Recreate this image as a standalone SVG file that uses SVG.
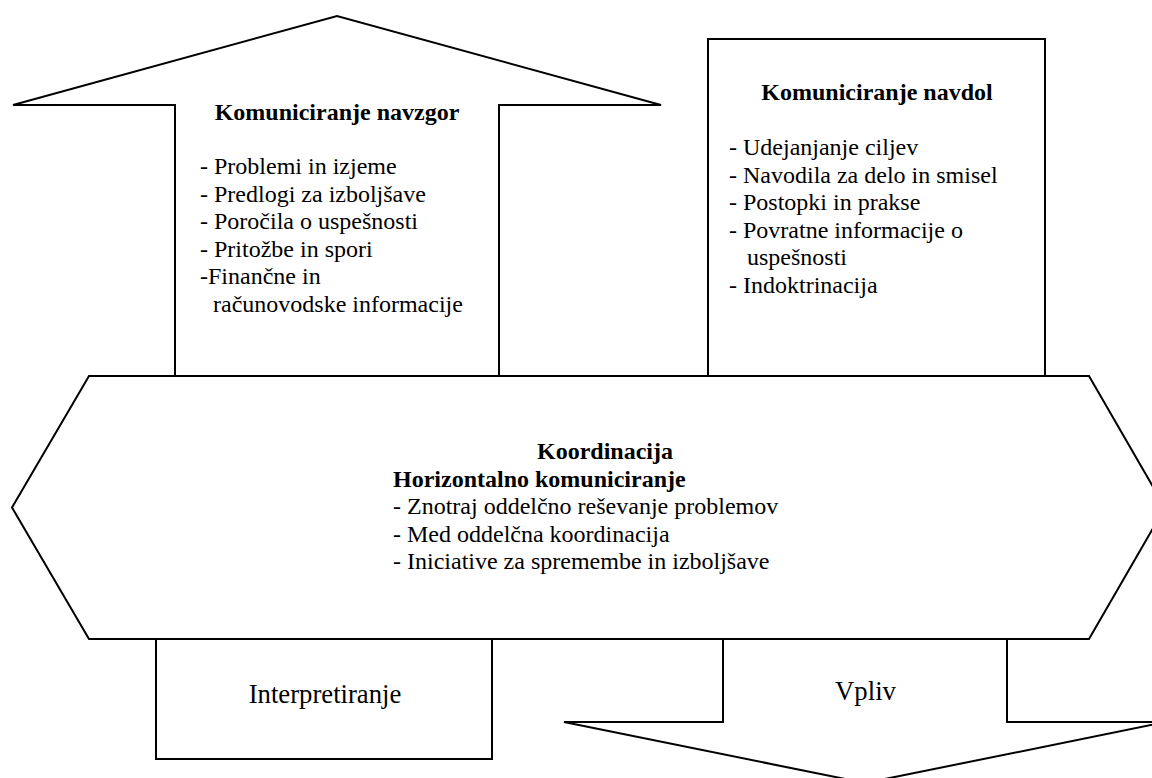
<svg xmlns="http://www.w3.org/2000/svg" width="1152" height="778" viewBox="0 0 1152 778">
<style>
.shape{fill:#fff;stroke:#000;stroke-width:2;stroke-linejoin:miter}
text{font-family:"Liberation Serif","Times New Roman",serif;fill:#000;font-size:24px}
.b{font-weight:bold}
.big{font-size:26.7px}
.mid{text-anchor:middle}
</style>
<rect width="1152" height="778" fill="#fff"/>
<g id="upward">
<polygon class="shape" points="175,376 175,105 13,105 337,16 661,105 499,105 499,376"/>
<text class="b mid" x="337" y="120">Komuniciranje navzgor</text>
<text x="200" y="174">- Problemi in izjeme</text>
<text x="200" y="201.6">- Predlogi za izboljšave</text>
<text x="200" y="229.2">- Poročila o uspešnosti</text>
<text x="200" y="256.8">- Pritožbe in spori</text>
<text x="200" y="284.4">-Finančne in</text>
<text x="213" y="312">računovodske informacije</text>
</g>
<g id="downward">
<rect class="shape" x="708" y="39" width="337" height="337"/>
<text class="b mid" x="877" y="100">Komuniciranje navdol</text>
<text x="729" y="155">- Udejanjanje ciljev</text>
<text x="729" y="182.5">- Navodila za delo in smisel</text>
<text x="729" y="210">- Postopki in prakse</text>
<text x="729" y="237.5">- Povratne informacije o</text>
<text x="747" y="265">uspešnosti</text>
<text x="729" y="292.5">- Indoktrinacija</text>
</g>
<g id="horizontal">
<polygon class="shape" points="89,376 1089,376 1165,507.5 1089,639 89,639 12,507.5"/>
<text class="b" x="537" y="459">Koordinacija</text>
<text class="b" x="393" y="486.5">Horizontalno komuniciranje</text>
<text x="393" y="514">- Znotraj oddelčno reševanje problemov</text>
<text x="393" y="541.5">- Med oddelčna koordinacija</text>
<text x="393" y="569">- Iniciative za spremembe in izboljšave</text>
</g>
<g id="interpretiranje">
<rect class="shape" x="156" y="639" width="336" height="120"/>
<text class="big mid" x="325" y="703">Interpretiranje</text>
</g>
<g id="vpliv">
<polygon class="shape" points="723,639 1007,639 1007,722 1166,722 865,783 564,722 723,722"/>
<text class="big mid" x="865.5" y="700">Vpliv</text>
</g>
<g id="connectors"></g>
</svg>
